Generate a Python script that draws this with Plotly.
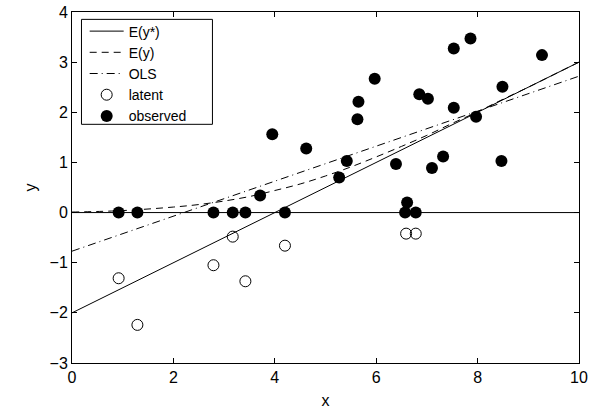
import plotly.graph_objects as go

# Latent (censored) observations: x and latent y*
latent_x = [0.92, 1.29, 2.79, 3.17, 3.42, 4.20, 6.59, 6.78]
latent_y = [-1.31, -2.24, -1.05, -0.48, -1.37, -0.66, -0.42, -0.42]

# Observed y values
obs_x = [0.92, 1.29, 2.79, 3.17, 3.42, 3.71, 4.20, 3.95, 4.62, 5.27, 5.42,
         5.63, 5.65, 5.97, 6.39, 6.61, 6.57, 6.78, 6.85, 7.02, 7.10, 7.32,
         7.53, 7.53, 7.86, 7.97, 8.49, 8.47, 9.27]
obs_y = [0.0, 0.0, 0.0, 0.0, 0.0, 0.34, 0.0, 1.56, 1.28, 0.70, 1.03,
         1.86, 2.21, 2.67, 0.97, 0.20, 0.0, 0.0, 2.36, 2.27, 0.89, 1.12,
         3.27, 2.09, 3.47, 1.91, 2.51, 1.03, 3.14]

# E(y*) line endpoints
ey_star_x = [0, 10]
ey_star_y = [-2.0, 3.0]

# E(y) curve
ey_x = [0, 1, 2, 2.5, 3, 3.5, 4, 4.5, 5, 5.5, 6, 6.5, 7, 7.5, 8, 8.5, 9, 9.5, 10]
ey_y = [0.01, 0.04, 0.11, 0.16, 0.23, 0.32, 0.44, 0.57, 0.73, 0.91, 1.11,
        1.32, 1.54, 1.78, 2.01, 2.26, 2.50, 2.75, 3.0]

# OLS fit line endpoints
ols_x = [0, 10]
ols_y = [-0.77, 2.72]

# zero reference line
zero_x = [0, 10]
zero_y = [0, 0]

x_ticks = [0, 2, 4, 6, 8, 10]
y_ticks = [-3, -2, -1, 0, 1, 2, 3, 4]

FONT = "Liberation Sans, Arial, Helvetica, sans-serif"

fig = go.Figure()
fig.add_trace(go.Scatter(x=zero_x, y=zero_y, mode="lines",
                         line=dict(color="black", width=1), showlegend=False,
                         hoverinfo="skip"))
fig.add_trace(go.Scatter(x=ey_star_x, y=ey_star_y, mode="lines", name="E(y*)",
                         line=dict(color="black", width=1)))
fig.add_trace(go.Scatter(x=ey_x, y=ey_y, mode="lines", name="E(y)",
                         line=dict(color="black", width=1, dash="7px,5px"),
                         line_shape="spline"))
fig.add_trace(go.Scatter(x=ols_x, y=ols_y, mode="lines", name="OLS",
                         line=dict(color="black", width=1, dash="8px,4px,1px,4px")))
fig.add_trace(go.Scatter(x=latent_x, y=latent_y, mode="markers", name="latent",
                         marker=dict(symbol="circle-open", size=11, color="black",
                                     line=dict(width=1, color="black"))))
fig.add_trace(go.Scatter(x=obs_x, y=obs_y, mode="markers", name="observed",
                         marker=dict(symbol="circle", size=12, color="black",
                                     line=dict(width=0))))

axis_common = dict(showgrid=False, zeroline=False, showline=True, linecolor="black",
                   linewidth=1, mirror="ticks", ticks="inside", ticklen=5,
                   tickcolor="black", tickwidth=1, automargin=False,
                   ticklabeloverflow="allow",
                   tickfont=dict(family=FONT, size=16, color="black"))

fig.update_xaxes(range=[0, 10], tickvals=x_ticks, ticktext=[str(v) for v in x_ticks],
                 title=dict(text="x", font=dict(family=FONT, size=16, color="black"),
                            standoff=10),
                 **axis_common)
fig.update_yaxes(range=[-3, 4], tickvals=y_ticks,
                 ticktext=[("\u2212" + str(-v)) if v < 0 else str(v) for v in y_ticks],
                 title=dict(text="y", font=dict(family=FONT, size=16, color="black"),
                            standoff=8),
                 **axis_common)

# legend frame (white box with black border) behind the legend entries
fig.add_shape(type="rect", xref="paper", yref="paper",
              x0=0.0187, x1=0.277, y0=0.680, y1=0.979,
              line=dict(color="black", width=1), fillcolor="white", layer="below")

fig.update_layout(
    width=594, height=409,
    margin=dict(l=72, r=15, t=12, b=46),
    paper_bgcolor="white", plot_bgcolor="white",
    font=dict(family=FONT, size=16, color="black"),
    legend=dict(x=0.025, y=0.99, xanchor="left", yanchor="top",
                bgcolor="rgba(0,0,0,0)", borderwidth=0,
                font=dict(family=FONT, size=14, color="black"),
                itemwidth=34, tracegroupgap=0),
)

fig.write_html("out.html",
               post_script="document.body.style.margin='0';",
               config={"displayModeBar": False})
